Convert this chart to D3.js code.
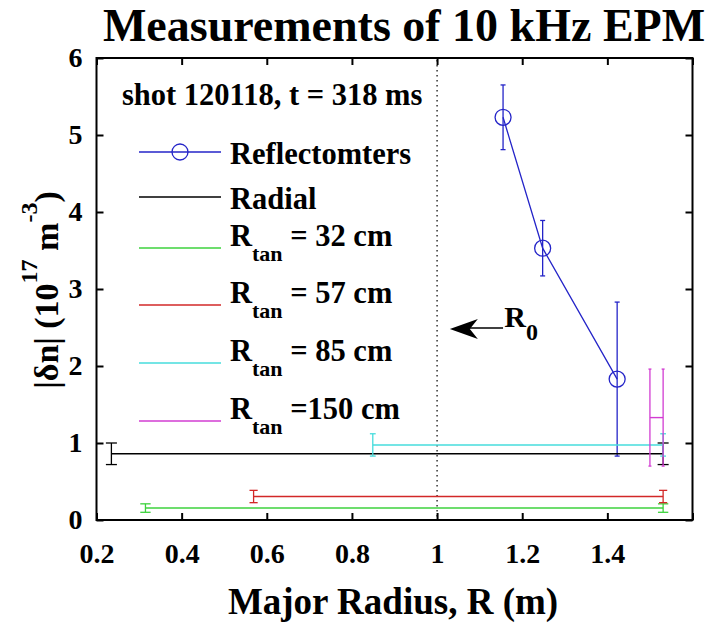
<!DOCTYPE html>
<html>
<head>
<meta charset="utf-8">
<script src="https://cdn.jsdelivr.net/npm/d3@7"></script>
<style>
  body { margin: 0; background: #fff; }
  svg text { font-family: "Liberation Serif", "DejaVu Serif", "Times New Roman", serif; font-weight: bold; fill: #000; }
  .axis path { display: none; }
  .axis line { stroke: #000; stroke-width: 2; }
  .axis text { font-size: 28px; }
</style>
</head>
<body>
<svg id="chart" width="709" height="624"></svg>
<script>
// reflectometer measurements
const reflR = [1.155, 1.248, 1.423];
const reflN = [5.23, 3.53, 1.83];
const reflErr = [0.42, 0.36, 1.0];

// interferometer chords (radial + tangential)
const chordStart = [0.235, 0.315, 0.569, 0.849, 1.500];
const chordEnd = [1.531, 1.531, 1.531, 1.531, 1.531];
const chordN = [0.86, 0.155, 0.305, 0.975, 1.33];
const chordErr = [0.14, 0.055, 0.08, 0.145, 0.63];

const legendLabels = ["Reflectomters", "Radial", "= 32 cm", "= 57 cm", "= 85 cm", "=150 cm"];
const xTicks = [0.2, 0.4, 0.6, 0.8, 1.0, 1.2, 1.4, 1.6];
const xTickLabels = ["0.2", "0.4", "0.6", "0.8", "1", "1.2", "1.4", ""];
const yTicks = [0, 1, 2, 3, 4, 5, 6];

const colors = ["#2424c8", "#000000", "#3cd23c", "#d22828", "#46dcdc", "#d23cd2"];

const box = {left: 96.5, right: 692.5, top: 58, bottom: 520};
const x = d3.scaleLinear().domain([0.2, 1.6]).range([box.left, box.right]);
const y = d3.scaleLinear().domain([0, 6]).range([box.bottom, box.top]);

const svg = d3.select("#chart");

// title
svg.append("text")
  .attr("x", 404).attr("y", 41)
  .attr("text-anchor", "middle")
  .style("font-size", "46px")
  .text("Measurements of 10 kHz EPM");

// axes (ticks inward, mirrored)
svg.append("g").attr("class", "axis")
  .attr("transform", "translate(0," + box.bottom + ")")
  .call(d3.axisBottom(x).tickValues(xTicks).tickSizeInner(-7).tickSizeOuter(0).tickPadding(23)
    .tickFormat((d, i) => xTickLabels[i]));
svg.append("g").attr("class", "axis")
  .attr("transform", "translate(0," + box.top + ")")
  .call(d3.axisTop(x).tickValues(xTicks).tickSizeInner(-7).tickSizeOuter(0).tickFormat(""));
svg.append("g").attr("class", "axis")
  .attr("transform", "translate(" + box.left + ",0)")
  .call(d3.axisLeft(y).tickValues(yTicks).tickSizeInner(-7).tickSizeOuter(0).tickPadding(14)
    .tickFormat(d3.format("d")));
svg.append("g").attr("class", "axis")
  .attr("transform", "translate(" + box.right + ",0)")
  .call(d3.axisRight(y).tickValues(yTicks).tickSizeInner(-7).tickSizeOuter(0).tickFormat(""));
svg.selectAll(".axis").attr("font-family", null).attr("font-size", null);

svg.append("rect")
  .attr("x", box.left).attr("y", box.top)
  .attr("width", box.right - box.left).attr("height", box.bottom - box.top)
  .attr("fill", "none").attr("stroke", "#000").attr("stroke-width", 2);

// R0 dotted line
svg.append("line")
  .attr("x1", x(1)).attr("x2", x(1))
  .attr("y1", box.top + 2).attr("y2", box.bottom)
  .attr("stroke", "#000").attr("stroke-width", 1.2)
  .attr("stroke-dasharray", "1.5,3.5");

function errBar(g, xv, yv, e, tee, color) {
  g.append("line")
    .attr("x1", x(xv)).attr("x2", x(xv))
    .attr("y1", y(yv - e)).attr("y2", y(yv + e))
    .attr("stroke", color).attr("stroke-width", 1.3);
  [yv - e, yv + e].forEach(v => {
    g.append("line")
      .attr("x1", x(xv) - tee).attr("x2", x(xv) + tee)
      .attr("y1", y(v)).attr("y2", y(v))
      .attr("stroke", color).attr("stroke-width", 1.3);
  });
}

// reflectometers
const gRefl = svg.append("g");
reflR.forEach((r, i) => errBar(gRefl, r, reflN[i], reflErr[i], 2.5, colors[0]));
gRefl.append("path")
  .datum(reflR.map((r, i) => [r, reflN[i]]))
  .attr("fill", "none").attr("stroke", colors[0]).attr("stroke-width", 1.3)
  .attr("d", d3.line().x(d => x(d[0])).y(d => y(d[1])));
gRefl.selectAll("circle").data(reflR).enter().append("circle")
  .attr("cx", d => x(d)).attr("cy", (d, i) => y(reflN[i]))
  .attr("r", 8).attr("fill", "none")
  .attr("stroke", colors[0]).attr("stroke-width", 1.3);

// chords
chordStart.forEach((s, i) => {
  const g = svg.append("g");
  const c = colors[i + 1];
  const tee = Math.max(1.5, (x(chordEnd[i]) - x(s)) / 100);
  g.append("line")
    .attr("x1", x(s)).attr("x2", x(chordEnd[i]))
    .attr("y1", y(chordN[i])).attr("y2", y(chordN[i]))
    .attr("stroke", c).attr("stroke-width", 1.4);
  errBar(g, s, chordN[i], chordErr[i], tee, c);
  errBar(g, chordEnd[i], chordN[i], chordErr[i], tee, c);
});

// R0 annotation
const tipX = x(1.03), tipY = y(2.48);
svg.append("path")
  .attr("d", "M" + tipX + "," + tipY + "L" + (tipX + 28) + "," + (tipY - 10) +
    "L" + (tipX + 20) + "," + tipY + "L" + (tipX + 28) + "," + (tipY + 10) + "Z")
  .attr("fill", "#000");
svg.append("line")
  .attr("x1", tipX + 20).attr("x2", x(1.155)).attr("y1", tipY - 1).attr("y2", tipY - 1)
  .attr("stroke", "#000").attr("stroke-width", 1.5);
const r0 = svg.append("text").attr("x", x(1.158)).attr("y", tipY - 2).style("font-size", "30px");
r0.append("tspan").text("R");
r0.append("tspan").attr("dy", 13).style("font-size", "24px").text("0");

// y label
const yl = svg.append("text")
  .attr("transform", "translate(58,290) rotate(-90)")
  .attr("text-anchor", "middle")
  .style("font-size", "34px");
yl.append("tspan").text("|δn| (10");
yl.append("tspan").attr("dy", -21).style("font-size", "24px").text("17");
yl.append("tspan").attr("dy", 21).text(" m");
yl.append("tspan").attr("dy", -21).style("font-size", "24px").text("-3");
yl.append("tspan").attr("dy", 21).text(")");

// x label
svg.append("text")
  .attr("x", 393).attr("y", 614)
  .attr("text-anchor", "middle")
  .style("font-size", "37px")
  .text("Major Radius, R (m)");

// legend
svg.append("text").attr("x", 122).attr("y", 105)
  .style("font-size", "30.5px")
  .text("shot 120118, t = 318 ms");

const rowY = [152, 197, 248, 305, 363, 421];
legendLabels.forEach((lab, i) => {
  const ly = rowY[i];
  svg.append("line")
    .attr("x1", 139).attr("x2", 221).attr("y1", ly).attr("y2", ly)
    .attr("stroke", colors[i]).attr("stroke-width", 1.4);
  if (i === 0) {
    svg.append("circle").attr("cx", 180).attr("cy", ly).attr("r", 8)
      .attr("fill", "none").attr("stroke", colors[0]).attr("stroke-width", 1.3);
  }
  const t = svg.append("text").attr("x", 230).style("font-size", "30.5px");
  if (i < 2) {
    t.attr("y", ly + 12).text(lab);
  } else {
    t.attr("y", ly - 2);
    t.append("tspan").text("R");
    t.append("tspan").attr("dy", 15).style("font-size", "22px").text("tan");
    t.append("tspan").attr("dy", -15).text(" " + lab);
  }
});
</script>
</body>
</html>
